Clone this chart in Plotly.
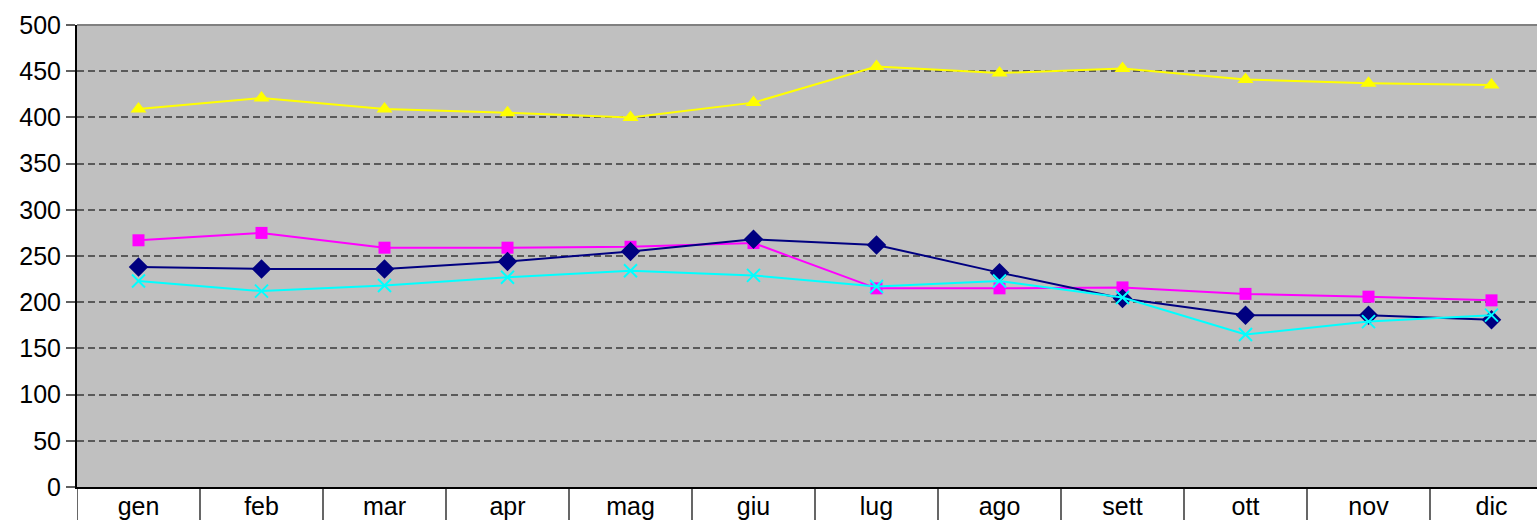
import plotly.graph_objects as go

months = ["gen", "feb", "mar", "apr", "mag", "giu", "lug", "ago", "sett", "ott", "nov", "dic"]
navy_vals = [238, 236, 236, 244, 255, 268, 262, 232, 204, 186, 186, 181]
magenta_vals = [267, 275, 259, 259, 260, 264, 215, 215, 216, 209, 206, 202]
yellow_vals = [409, 421, 409, 405, 400, 416, 455, 448, 453, 441, 437, 435]
cyan_vals = [223, 212, 218, 227, 234, 229, 217, 223, 205, 165, 179, 186]
y_ticks = [0, 50, 100, 150, 200, 250, 300, 350, 400, 450, 500]

FONT = "Liberation Sans, Arial, sans-serif"

fig = go.Figure()
fig.add_trace(go.Scatter(x=months, y=magenta_vals, mode="lines+markers",
                         line=dict(color="#FF00FF", width=2),
                         marker=dict(symbol="square", size=12, color="#FF00FF")))
fig.add_trace(go.Scatter(x=months, y=navy_vals, mode="lines+markers",
                         line=dict(color="#000080", width=2),
                         marker=dict(symbol="diamond", size=15, color="#000080")))
fig.add_trace(go.Scatter(x=months, y=yellow_vals, mode="lines+markers",
                         line=dict(color="#FFFF00", width=2),
                         marker=dict(symbol="triangle-up", size=14, color="#FFFF00")))
fig.add_trace(go.Scatter(x=months, y=cyan_vals, mode="lines+markers",
                         line=dict(color="#00FFFF", width=2),
                         marker=dict(symbol="x-thin", size=13, color="#00FFFF",
                                     line=dict(color="#00FFFF", width=2))))

# category separators below the axis
shapes = []
for i in range(len(months) + 1):
    shapes.append(dict(type="line", xref="x", yref="paper", x0=i - 0.5, x1=i - 0.5,
                       y0=0, y1=-0.2, line=dict(color="black", width=1.2)))
shapes.append(dict(type="line", xref="paper", yref="paper", x0=0, x1=1, y0=1, y1=1,
                   line=dict(color="#808080", width=2)))
fig.update_layout(shapes=shapes)

n = len(months)
fig.update_layout(
    width=1537, height=520,
    margin=dict(l=77, r=0, t=25, b=33, autoexpand=False),
    paper_bgcolor="white", plot_bgcolor="#C0C0C0",
    showlegend=False,
    font=dict(family=FONT, size=25, color="black"),
    xaxis=dict(type="category", range=[-0.5, n - 0.5 - 16 / 123], showgrid=False,
               automargin=False,
               showline=True, linecolor="black", linewidth=2, ticks="",
               tickfont=dict(size=25), ticklabelstandoff=-4),
    yaxis=dict(range=[0, 500], tickvals=y_ticks, showgrid=True, gridcolor="#5A5A5A",
               automargin=False,
               gridwidth=1.5, griddash="7px,4px", zeroline=False,
               showline=True, linecolor="black", linewidth=2,
               ticks="outside", ticklen=9, tickcolor="#606060", tickwidth=1.5,
               tickfont=dict(size=25)),
)
fig.write_html("out.html", config={"responsive": False, "displayModeBar": False},
               post_script="document.body.style.margin='0';")
